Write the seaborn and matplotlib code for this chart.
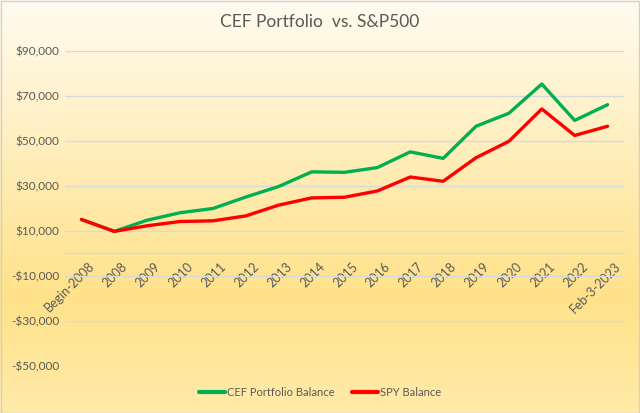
import numpy as np
import pandas as pd
import matplotlib
matplotlib.use('Agg')
import matplotlib.pyplot as plt
import seaborn as sns
from matplotlib.colors import LinearSegmentedColormap
from matplotlib.patches import Rectangle
from matplotlib.ticker import FuncFormatter
from matplotlib.transforms import ScaledTranslation

periods = ['Begin-2008', '2008', '2009', '2010', '2011', '2012', '2013', '2014', '2015',
           '2016', '2017', '2018', '2019', '2020', '2021', '2022', 'Feb-3-2023']
cef_balance = [15000, 9700, 14700, 18000, 19900, 25000, 29700, 36200, 36000,
               38100, 45100, 42200, 56500, 62300, 75300, 59100, 66100]
spy_balance = [15000, 9700, 12200, 14100, 14400, 16600, 21400, 24600, 24900,
               27700, 33900, 32000, 42500, 49800, 64200, 52400, 56500]
series_names = ['CEF Portfolio Balance', 'SPY Balance']

df = pd.DataFrame({
    'pos': list(range(len(periods))) * 2,
    'balance': cef_balance + spy_balance,
    'series': [series_names[0]] * len(periods) + [series_names[1]] * len(periods),
})

sns.set_theme(style='white')
plt.rcParams['font.family'] = ['Lato', 'DejaVu Sans']
text_color = '#595959'
grid_color = '#D9D9D9'

fig = plt.figure(figsize=(6.4, 4.13), dpi=100)

# gradient background
bg = fig.add_axes([0, 0, 1, 1], zorder=-10)
cmap = LinearSegmentedColormap.from_list('gold', [
    (0.0, (1.0, 0.985, 0.94)),
    (0.72, (1.0, 0.885, 0.54)),
    (1.0, (1.0, 0.92, 0.66)),
])
grad = np.linspace(0, 1, 256).reshape(-1, 1)
bg.imshow(grad, aspect='auto', cmap=cmap, extent=[0, 1, 0, 1], origin='upper')
bg.set_axis_off()
fig.patches.append(Rectangle((0.001, 0.001), 0.998, 0.997, transform=fig.transFigure,
                             fill=False, edgecolor='#D0D0D0', linewidth=1))

ax = fig.add_axes([65 / 640, 1 - 365.5 / 413, (624 - 65) / 640, (365.5 - 51) / 413])
ax.set_facecolor('none')

sns.lineplot(data=df, x='pos', y='balance', hue='series', hue_order=series_names,
             palette=['#00B050', '#FF0000'], linewidth=2.4, ax=ax, legend=True)

ax.set_xlim(-0.5, len(periods) - 0.5)
ax.set_ylim(-50000, 90000)
ax.set_yticks(np.arange(-50000, 90001, 20000))
ax.yaxis.set_major_formatter(FuncFormatter(
    lambda v, p: f'${v:,.0f}' if v >= 0 else f'-${-v:,.0f}'))
ax.grid(axis='y', color=grid_color, linewidth=1)
ax.set_axisbelow(True)

for side in ['top', 'right', 'left']:
    ax.spines[side].set_visible(False)
ax.spines['bottom'].set_position(('data', 0))
ax.spines['bottom'].set_color(grid_color)
ax.spines['bottom'].set_linewidth(1)

ax.set_xticks(range(len(periods)))
ax.set_xticklabels(periods, rotation=45, ha='right', rotation_mode='anchor')
ax.tick_params(axis='x', length=0, pad=5, labelsize=9, labelcolor=text_color)
ax.tick_params(axis='y', length=0, pad=4, labelsize=8.5, labelcolor=text_color)
for lab in ax.get_xticklabels():
    lab.set_transform(lab.get_transform() + ScaledTranslation(5 / 72, 0, fig.dpi_scale_trans))

ax.set_xlabel('')
ax.set_ylabel('')

fig.text(0.5, 1 - 22 / 413, 'CEF Portfolio  vs. S&P500', ha='center', va='center',
         fontsize=12.5, color=text_color)

leg = ax.legend(loc='center', bbox_to_anchor=(0.5, (413 - 392) / 413),
                bbox_transform=fig.transFigure, ncol=2, frameon=False,
                fontsize=8, handlelength=2.3, handletextpad=0.2, columnspacing=1.6)
for t in leg.get_texts():
    t.set_color(text_color)
for l in leg.get_lines():
    l.set_linewidth(3)

fig.savefig('out.png', dpi=100)
